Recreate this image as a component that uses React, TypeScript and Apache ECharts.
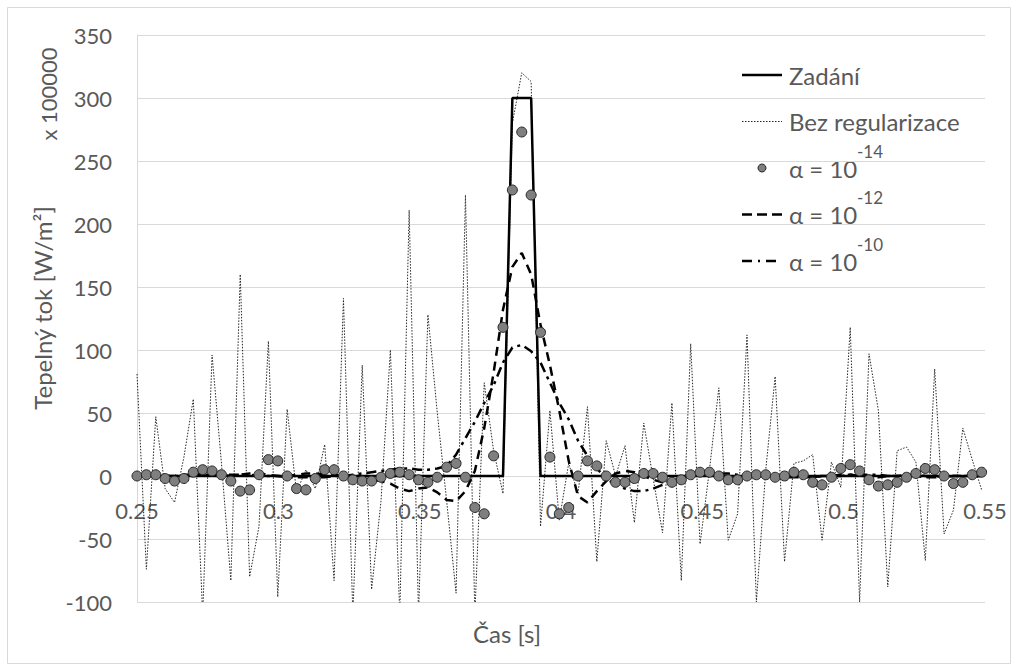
import React, { useEffect, useRef } from "react";
import * as echarts from "echarts";

// sampling of the time axis [s]
const T0 = 0.25;
const DT = 0.00332;

// Zadání (prescribed heat flux)
const zadani = [
  0, 0, 0, 0, 0, 0, 0, 0, 0, 0,
  0, 0, 0, 0, 0, 0, 0, 0, 0, 0,
  0, 0, 0, 0, 0, 0, 0, 0, 0, 0,
  0, 0, 0, 0, 0, 0, 0, 0, 0, 0,
  300, 300, 300, 0, 0, 0, 0, 0, 0, 0,
  0, 0, 0, 0, 0, 0, 0, 0, 0, 0,
  0, 0, 0, 0, 0, 0, 0, 0, 0, 0,
  0, 0, 0, 0, 0, 0, 0, 0, 0, 0,
  0, 0, 0, 0, 0, 0, 0, 0, 0, 0,
  0,
];

// Bez regularizace
const bezRegularizace = [
  81, -74, 47, -10, -21, 15, 61, -110, 96, 10,
  -83, 160, -80, -40, 107, -96, 53, -13, 5, -10,
  25, -83, 141, -110, 88, -90, -20, 100, -110, 211,
  -110, 128, 50, -20, -93, 223, -110, 74, 20, -14,
  280, 320, 313, -40, 52, -35, 10, -14, 55, -68,
  28, 0, 24, -37, 42, -2, -45, 58, -83, 105,
  -54, 5, 70, -51, -30, 112, -100, 5, 79, -68,
  10, 12, 17, -51, 11, -9, 118, -100, 97, 52,
  -88, 20, 23, 11, -67, 85, -46, -27, 38, 13,
  -11,
];

// α = 10^-14
const alpha14 = [
  0, 1, 1, -2, -4, -2, 3, 5, 4, 1,
  -4, -12, -11, 1, 13, 12, 0, -10, -11, -2,
  5, 5, 0, -3, -4, -4, -1, 2, 3, 1,
  -3, -5, -1, 7, 10, -1, -25, -30, 16, 118,
  227, 273, 223, 114, 15, -30, -25, 0, 12, 8,
  0, -5, -5, -2, 2, 2, -1, -5, -3, 1,
  3, 3, 0, -3, -3, 0, 1, 1, -1, 0,
  3, 1, -5, -7, -1, 6, 9, 4, -3, -8,
  -7, -5, -1, 2, 6, 5, 0, -6, -5, 1,
  3,
];

// α = 10^-12
const alpha12 = [
  0, 0, 0, 0, 0, 1, 1, 2, 2, 1,
  0, 1, 2, 2, 1, 0, 0, 1, 2, 2,
  1, 1, 0, -1, -2, -3, -4, -6, -10, -12,
  -10, -9, -13, -19, -20, -12, 4, 38, 82, 132,
  166, 177, 160, 120, 88, 52, 12, -16, -21, -12,
  -4, 2, 4, 3, 0, -3, -5, -4, -2, 0,
  1, 1, 0, 0, -1, -1, 0, 1, 1, 0,
  0, -1, -1, 0, 0, 1, 1, 0, 0, -1,
  0, 0, 1, 1, 0, 0, -1, 0, 0, 1,
  0,
];

// α = 10^-10
const alpha10 = [
  0, 0, 0, 0, 0, 0, 1, 1, 1, 1,
  1, 1, 1, 0, 0, 0, -1, -1, -1, -1,
  -1, 0, 0, 1, 2, 3, 4, 5, 6, 6,
  5, 5, 6, 8, 17, 30, 43, 58, 72, 90,
  102, 104, 99, 90, 74, 58, 45, 28, 16, 6,
  -2, -7, -10, -12, -12, -10, -7, -4, -2, 0,
  1, 2, 2, 2, 1, 1, 0, 0, 0, -1,
  -1, -1, -1, 0, 0, 0, 1, 1, 1, 1,
  0, 0, 0, 0, -1, -1, -1, 0, 0, 0,
  0,
];

const seriesNames = ["Zadání", "Bez regularizace", "α = 10^-14", "α = 10^-12", "α = 10^-10"];
const yAxisTitle = "Tepelný tok [W/m²]";
const yAxisMultiplier = "x 100000";
const xAxisTitle = "Čas [s]";

const time = zadani.map((_, i) => Number((T0 + i * DT).toFixed(5)));
const toPairs = (vals: number[]) => vals.map((v, i) => [time[i], v]);

const FONT = "Lato";
const TXT = "#595959";
const GRID = "#d9d9d9";

// legend layout (drawn with graphic elements)
const LEG_X = 742;
const LEG_W = 40;
const LEG_TEXT_X = 789;
const LEG_Y0 = 75;
const LEG_STEP = 46.5;

function legendGraphics() {
  const els: any[] = [];
  seriesNames.forEach((name, k) => {
    const cy = LEG_Y0 + k * LEG_STEP;
    if (k === 2) {
      els.push({
        type: "circle",
        silent: true,
        shape: { cx: LEG_X + LEG_W / 2, cy, r: 4 },
        style: { fill: "#7f7f7f", stroke: "#262626", lineWidth: 1 },
      });
    } else {
      const dash =
        k === 0 ? null : k === 1 ? [1.5, 1.5] : k === 3 ? [10, 5] : [10, 6, 2, 6];
      els.push({
        type: "line",
        silent: true,
        shape: { x1: LEG_X, y1: cy, x2: LEG_X + LEG_W, y2: cy },
        style: {
          stroke: k === 1 ? "#262626" : "#000000",
          lineWidth: k === 1 ? 1 : 2.5,
          lineDash: dash,
        },
      });
    }
    const m = name.match(/^(α = 10)\^(.*)$/);
    if (m) {
      els.push({
        type: "text",
        silent: true,
        x: LEG_TEXT_X,
        y: cy,
        style: { text: m[1], fill: TXT, fontSize: 24, fontFamily: FONT, align: "left", verticalAlign: "middle" },
      });
      els.push({
        type: "text",
        silent: true,
        x: 857,
        y: cy - 17,
        style: { text: m[2], fill: TXT, fontSize: 17, fontFamily: FONT, align: "left", verticalAlign: "middle" },
      });
    } else {
      els.push({
        type: "text",
        silent: true,
        x: LEG_TEXT_X,
        y: cy,
        style: { text: name, fill: TXT, fontSize: 24, fontFamily: FONT, align: "left", verticalAlign: "middle" },
      });
    }
  });
  return els;
}

export default function App() {
  const ref = useRef<HTMLDivElement>(null);
  useEffect(() => {
    const chart = echarts.init(ref.current!, null, { renderer: "svg" });
    const option: any = {
      animation: false,
      backgroundColor: "#ffffff",
      textStyle: { fontFamily: FONT },
      grid: { left: 137, right: 33, top: 35, bottom: 69, containLabel: false },
      xAxis: {
        type: "value",
        position: "bottom",
        min: 0.25,
        max: 0.55,
        interval: 0.05,
        offset: -126,
        axisLine: { show: true, onZero: false, lineStyle: { color: GRID, width: 1 } },
        axisTick: { show: false },
        splitLine: { show: false },
        axisLabel: {
          color: TXT,
          fontSize: 22,
          fontFamily: FONT,
          margin: 23,
          formatter: (v: number) => String(Number(v.toFixed(2))),
        },
      },
      yAxis: {
        type: "value",
        min: -100,
        max: 350,
        interval: 50,
        axisLine: { show: true, onZero: false, lineStyle: { color: GRID, width: 1 } },
        axisTick: { show: false },
        splitLine: { show: true, lineStyle: { color: GRID, width: 1 } },
        axisLabel: { color: TXT, fontSize: 22, fontFamily: FONT, margin: 25 },
      },
      graphic: [
        {
          type: "rect",
          silent: true,
          shape: { x: 7.5, y: 7.5, width: 1003, height: 656 },
          style: { fill: "none", stroke: GRID, lineWidth: 1 },
        },
        {
          type: "text",
          x: 42,
          y: 308,
          rotation: Math.PI / 2,
          silent: true,
          style: { text: yAxisTitle, fill: TXT, fontSize: 24, fontFamily: FONT, align: "center", verticalAlign: "middle" },
        },
        {
          type: "text",
          x: 48,
          y: 94,
          rotation: Math.PI / 2,
          silent: true,
          style: { text: yAxisMultiplier, fill: TXT, fontSize: 22, fontFamily: FONT, align: "center", verticalAlign: "middle" },
        },
        {
          type: "text",
          x: 507,
          y: 633,
          silent: true,
          style: { text: xAxisTitle, fill: TXT, fontSize: 24, fontFamily: FONT, align: "center", verticalAlign: "middle" },
        },
        ...legendGraphics(),
      ],
      series: [
        {
          name: seriesNames[0],
          type: "line",
          data: toPairs(zadani),
          symbol: "none",
          showSymbol: false,
          z: 3,
          lineStyle: { color: "#000000", width: 2.5, type: "solid" },
          itemStyle: { color: "#000000" },
        },
        {
          name: seriesNames[1],
          type: "line",
          data: toPairs(bezRegularizace),
          symbol: "none",
          showSymbol: false,
          z: 2,
          lineStyle: { color: "#262626", width: 1, type: [1.5, 1.5] },
          itemStyle: { color: "#262626" },
        },
        {
          name: seriesNames[2],
          type: "scatter",
          data: toPairs(alpha14),
          symbol: "circle",
          symbolSize: 10,
          z: 5,
          itemStyle: { color: "#7f7f7f", borderColor: "#262626", borderWidth: 1, opacity: 1 },
        },
        {
          name: seriesNames[3],
          type: "line",
          data: toPairs(alpha12),
          symbol: "none",
          showSymbol: false,
          z: 4,
          lineStyle: { color: "#000000", width: 2.5, type: [9, 6] },
          itemStyle: { color: "#000000" },
        },
        {
          name: seriesNames[4],
          type: "line",
          data: toPairs(alpha10),
          symbol: "none",
          showSymbol: false,
          z: 4,
          lineStyle: { color: "#000000", width: 2.5, type: [10, 5, 3, 5] },
          itemStyle: { color: "#000000" },
        },
      ],
    };
    chart.setOption(option);
    return () => chart.dispose();
  }, []);
  return (
    <div
      ref={ref}
      style={{ position: "absolute", left: 0, top: 0, width: 1018, height: 671, background: "#ffffff" }}
    />
  );
}
